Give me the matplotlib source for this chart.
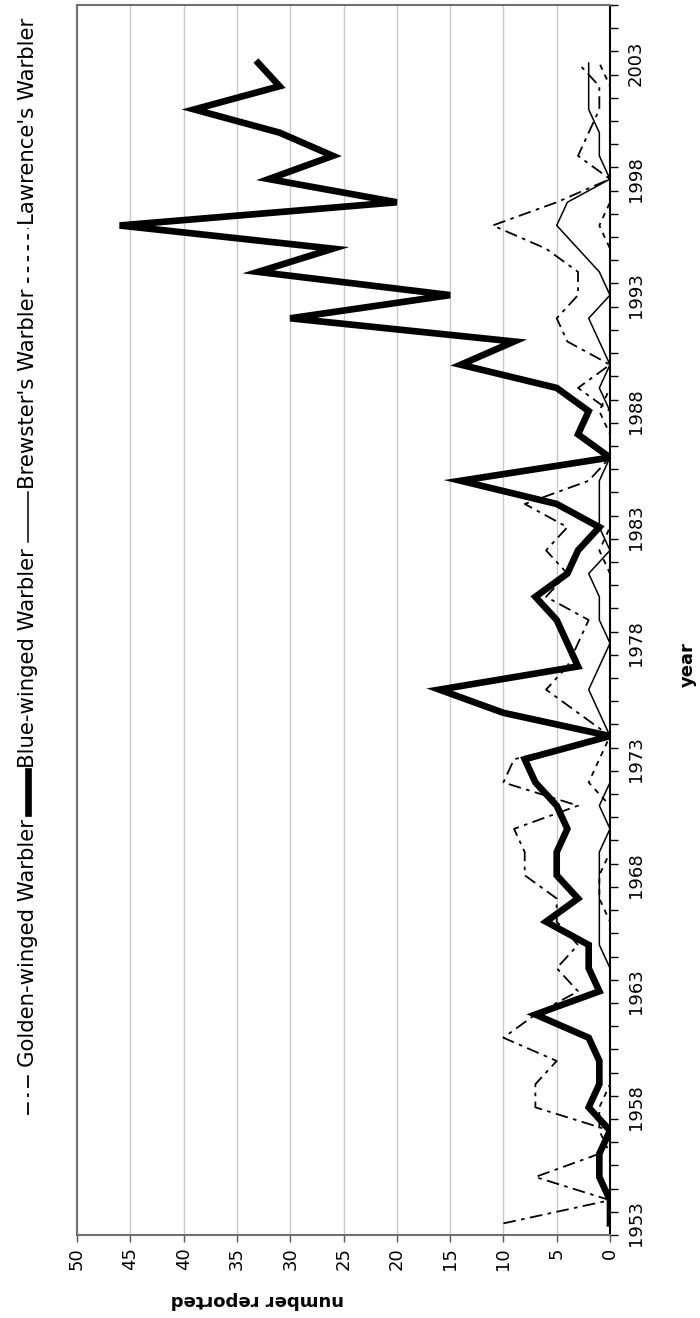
import numpy as np
import matplotlib
matplotlib.use("Agg")
import matplotlib.pyplot as plt
from matplotlib.lines import Line2D

plt.rcParams['font.family'] = ['DejaVu Sans']

years = list(range(1953, 2004))
blue_winged = [0, 0, 1, 1, 0, 2, 1, 1, 2, 7,
               1, 2, 2, 6, 3, 5, 5, 4, 5, 7,
               8, 0, 10, 16, 3, 4, 5, 7, 4, 3,
               1, 5, 14, 0, 3, 2, 5, 14, 9, 30,
               15, 33, 26, 46, 20, 32, 26, 31, 39, 31,
               33]
brewsters = [0, 0, 0, 0, 0, 0, 0, 0, 0, 0,
             0, 0, 1, 1, 1, 1, 1, 0, 1, 0,
             0, 0, 1, 2, 1, 0, 1, 1, 2, 0,
             1, 1, 1, 0, 0, 0, 1, 0, 1, 2,
             0, 1, 3, 5, 4, 0, 1, 1, 2, 2,
             2]
golden_winged = [10, 0, 7, 1, 0, 7, 7, 5, 10, 7,
                 3, 5, 3, 5, 5, 8, 8, 9, 3, 10,
                 9, 0, 3, 6, 4, 3, 2, 6, 4, 6,
                 4, 8, 2, 0, 0, 0, 3, 0, 4, 5,
                 3, 3, 6, 11, 5, 0, 3, 2, 1, 1,
                 3]
lawrences = [0, 0, 0, 0, 1, 1, 0, 0, 0, 0,
             0, 0, 0, 0, 1, 1, 0, 0, 0, 2,
             1, 0, 0, 0, 0, 0, 0, 0, 0, 1,
             0, 0, 0, 0, 0, 1, 0, 0, 0, 0,
             0, 0, 0, 1, 0, 0, 0, 0, 0, 0,
             1]

value_ticks = list(range(0, 51, 5))
year_labels = list(range(1953, 2004, 5))

W, H = 700, 1318
fig = plt.figure(figsize=(W / 100, H / 100), dpi=100)

def fx(px):
    return px / W

def fy(py):
    return (H - py) / H

L, R, T, B = 77, 610, 5, 1235
ax = fig.add_axes([fx(L), fy(B), fx(R) - fx(L), fy(T) - fy(B)])

styles = {
    'gw': dict(color='black', lw=1.3, dashes=(7, 3, 2, 3)),
    'bw': dict(color='black', lw=4.8, solid_joinstyle='miter'),
    'br': dict(color='black', lw=1.1),
    'lw': dict(color='black', lw=1.3, dashes=(3, 3)),
}

ax.plot(golden_winged, years, **styles['gw'], zorder=3)
ax.plot(lawrences, years, **styles['lw'], zorder=3)
ax.plot(brewsters, years, **styles['br'], zorder=4)
ax.plot(blue_winged, years, **styles['bw'], zorder=5)

ax.set_xlim(50, 0)
ax.set_ylim(1952.5, 2005.5)

ax.set_xticks(value_ticks)
ax.set_xticklabels([str(v) for v in value_ticks], rotation=90, fontsize=13)
ax.tick_params(axis='x', direction='out', length=5, width=1, color='#555555', pad=4)
ax.xaxis.grid(True, color='#c8c8c8', lw=1)
ax.set_axisbelow(True)

ax.yaxis.tick_right()
ax.set_yticks(np.arange(1952.5, 2005.6, 1.0))
ax.set_yticklabels([])
ax.tick_params(axis='y', which='major', direction='out', length=6, width=1, color='black')
ax.set_yticks(year_labels, minor=True)
ax.set_yticklabels([str(y) for y in year_labels], minor=True, rotation=90,
                   va='center', fontsize=13)
ax.tick_params(axis='y', which='minor', length=0, pad=12)

for s in ['left', 'top', 'bottom']:
    ax.spines[s].set_color('#707070')
    ax.spines[s].set_linewidth(1.5)
ax.spines['right'].set_color('black')
ax.spines['right'].set_linewidth(1.5)

fig.text(fx(257), fy(1300), 'number reported', rotation=180, fontsize=13,
         fontweight='bold', ha='center', va='center')
fig.text(fx(688), fy(665), 'year', rotation=90, fontsize=13,
         fontweight='bold', ha='center', va='center')

# Legend: vertical, text rotated, reading bottom to top
labels = ["Golden-winged Warbler", "Blue-winged Warbler",
          "Brewster's Warbler", "Lawrence's Warbler"]
keys = ['gw', 'bw', 'br', 'lw']
marker_lens = [45, 42, 50, 55]
fig.canvas.draw()
renderer = fig.canvas.get_renderer()
leg_x = 28
y_start, y_end = 1115, 17
gap_marker_text = 3
gap_text_marker = 6
fs = 14.0
texts = [fig.text(fx(leg_x), 0, lab, rotation=90, fontsize=fs,
                  ha='center', va='bottom') for lab in labels]
avail = y_start - y_end - sum(marker_lens) - 4 * gap_marker_text - 3 * gap_text_marker
for _ in range(3):
    hs = [t.get_window_extent(renderer).height for t in texts]
    fs = fs * avail / sum(hs)
    for t in texts:
        t.set_fontsize(fs)
hs = [t.get_window_extent(renderer).height for t in texts]
y_cur = y_start
for key, t, h, ml in zip(keys, texts, hs, marker_lens):
    fig.add_artist(Line2D([fx(leg_x), fx(leg_x)], [fy(y_cur), fy(y_cur - ml)],
                          transform=fig.transFigure, **styles[key]))
    y_cur -= ml + gap_marker_text
    t.set_position((fx(leg_x), fy(y_cur)))
    y_cur -= h + gap_text_marker

fig.savefig('out.png', dpi=100)
